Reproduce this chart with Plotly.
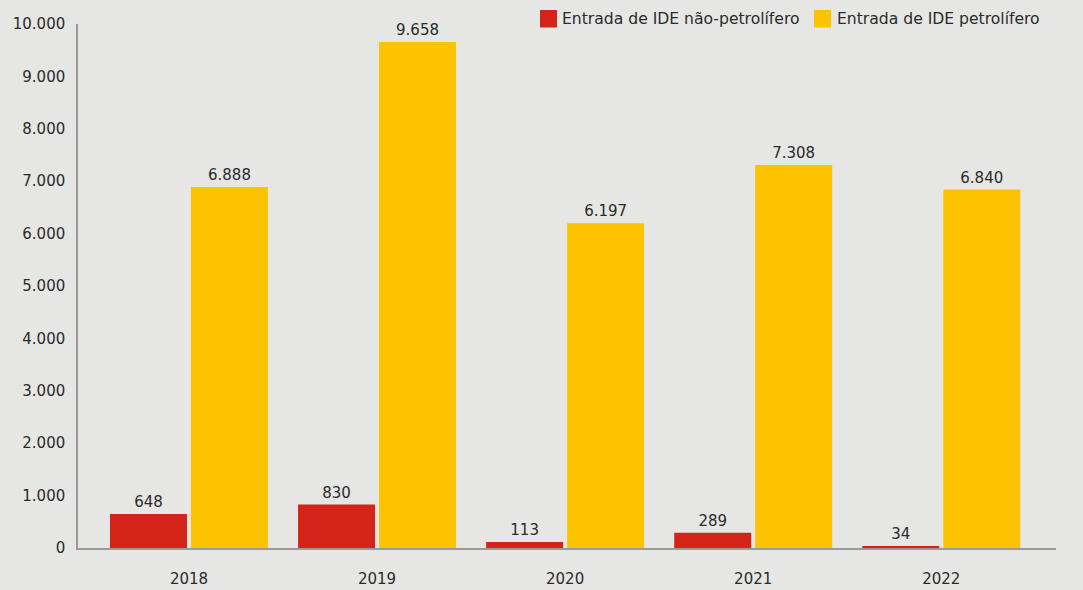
import plotly.graph_objects as go

years = ["2018", "2019", "2020", "2021", "2022"]
nao_petrolifero = [648, 830, 113, 289, 34]
petrolifero = [6888, 9658, 6197, 7308, 6840]
y_ticks = [0, 1000, 2000, 3000, 4000, 5000, 6000, 7000, 8000, 9000, 10000]
series_names = ["Entrada de IDE não-petrolífero", "Entrada de IDE petrolífero"]
colors = ["#d42419", "#fec300"]

font = "DejaVu Sans"
W, H = 1083, 590
L, R, T, B = 78, 27, 24, 42
pw, ph = W - L - R, H - T - B

def px(x):
    return (x - L) / pw

def py(y):
    return (H - B - y) / ph

fig = go.Figure()
for name, vals, col in zip(series_names, [nao_petrolifero, petrolifero], colors):
    fig.add_trace(go.Bar(
        x=years, y=vals, name=name,
        marker=dict(color=col, line=dict(width=0)),
        texttemplate="%{y:,}", textposition="outside", cliponaxis=False,
        textfont=dict(size=15, color="#2b2b2b", family=font),
        showlegend=False,
    ))

# manual legend
legend_items = [(540, 560), (814, 835)]
shapes = []
annotations = []
for (sx, tx), name, col in zip(legend_items, series_names, colors):
    shapes.append(dict(type="rect", xref="paper", yref="paper",
                       x0=px(sx), x1=px(sx + 17), y0=py(27.5), y1=py(10),
                       fillcolor=col, line=dict(width=0), layer="above"))
    annotations.append(dict(text=name, xref="paper", yref="paper",
                            x=px(tx), y=py(18.5), xanchor="left", yanchor="middle",
                            showarrow=False, font=dict(size=15.6, family=font, color="#2b2b2b")))

fig.update_layout(
    width=W, height=H,
    margin=dict(l=L, r=R, t=T, b=B, autoexpand=False),
    paper_bgcolor="#e6e6e5", plot_bgcolor="#e6e6e5",
    separators=",.",
    barmode="group", bargap=0.139, bargroupgap=0.049,
    font=dict(family=font, size=15, color="#2b2b2b"),
    showlegend=False,
    shapes=shapes, annotations=annotations,
    xaxis=dict(type="category", range=[-0.59, 4.61], showgrid=False,
               showline=True, linecolor="#9a9a9a", linewidth=1.5, ticks="",
               tickfont=dict(size=15), ticklabelstandoff=16),
    yaxis=dict(range=[0, 10000], tickvals=y_ticks, tickformat=",d", showgrid=False,
               showline=True, linecolor="#9a9a9a", linewidth=1.5, ticks="",
               zeroline=False, tickfont=dict(size=15), ticklabelstandoff=8),
)
fig.write_html("out.html")
